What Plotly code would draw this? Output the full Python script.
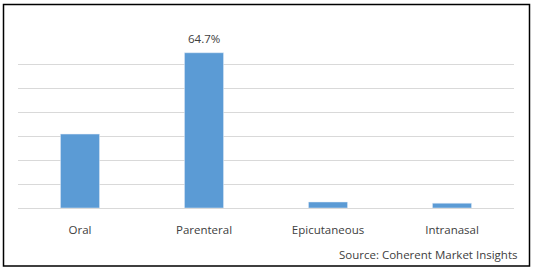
import plotly.graph_objects as go

categories = ["Oral", "Parenteral", "Epicutaneous", "Intranasal"]
shares = [30.8, 64.7, 2.5, 2.0]
label_flags = [False, True, False, False]
source_text = "Source: Coherent Market Insights"

W, H = 533, 270
L, R, T, B = 18, 19, 40, 62
pw, ph = W - L - R, H - T - B
FONT = "Open Sans"
TXT = "#404040"

def px(x):
    return (x - L) / pw

def py(y):
    return (H - B - y) / ph

fig = go.Figure(go.Bar(
    x=categories, y=shares,
    marker_color="#5b9bd5", width=0.315, cliponaxis=False,
))

annotations = [dict(text=source_text, xref="paper", yref="paper",
                    x=px(519), y=py(254), xanchor="right", yanchor="middle",
                    showarrow=False, font=dict(size=11.5, color=TXT, family=FONT))]
for c, v, f in zip(categories, shares, label_flags):
    if f:
        annotations.append(dict(text=f"{v}%", x=c, y=v, xref="x", yref="y",
                                yanchor="bottom", yshift=5, showarrow=False,
                                font=dict(size=11.5, color=TXT, family=FONT)))

fig.update_layout(
    width=W, height=H, margin=dict(l=L, r=R, t=T, b=B),
    paper_bgcolor="white", plot_bgcolor="white", showlegend=False,
    font=dict(family=FONT, size=11.5, color=TXT),
    xaxis=dict(showgrid=False, showline=False, zeroline=False,
               ticks="outside", ticklen=11, tickcolor="rgba(0,0,0,0)",
               tickfont=dict(size=11.5, color=TXT, family=FONT)),
    yaxis=dict(range=[0, 70], dtick=10, showticklabels=False,
               gridcolor="#d9d9d9", gridwidth=1, zeroline=True,
               zerolinecolor="#d9d9d9", zerolinewidth=1),
    shapes=[dict(type="rect", xref="paper", yref="paper",
                 x0=px(3.5), x1=px(529.5), y0=py(266), y1=py(4.5),
                 line=dict(color="black", width=1.5), fillcolor="rgba(0,0,0,0)",
                 layer="above")],
    annotations=annotations,
)

fig.write_html("out.html")
